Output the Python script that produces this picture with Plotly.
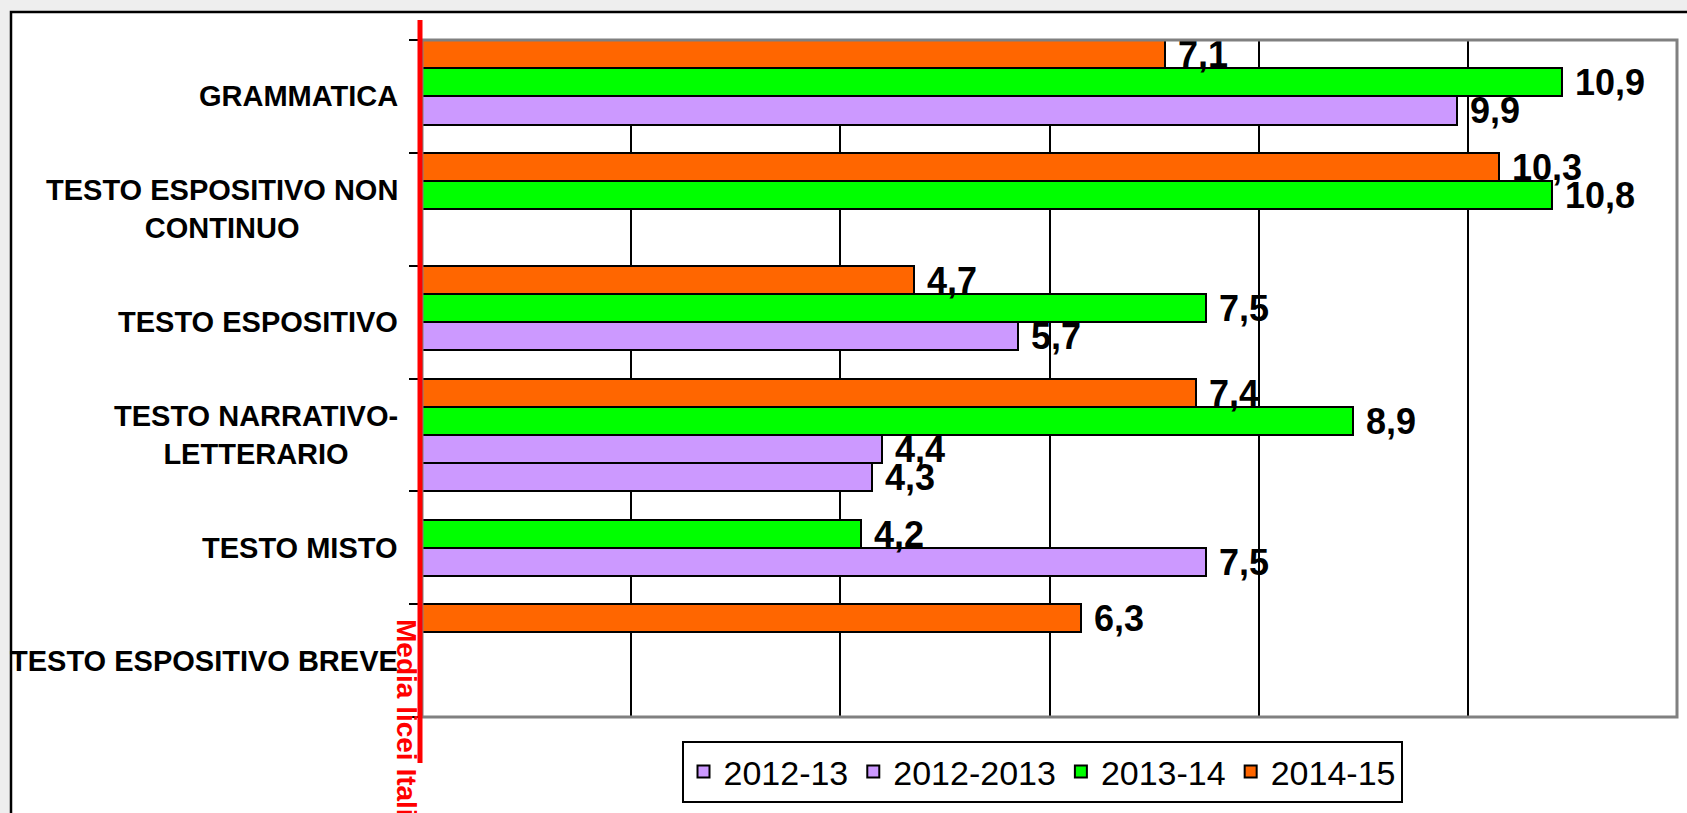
import plotly.graph_objects as go

# ---- data ----
categories = ["GRAMMATICA", "TESTO ESPOSITIVO NON CONTINUO", "TESTO ESPOSITIVO",
              "TESTO NARRATIVO-LETTERARIO", "TESTO MISTO", "TESTO ESPOSITIVO BREVE"]
category_labels = ["GRAMMATICA", "TESTO ESPOSITIVO NON<br>CONTINUO", "TESTO ESPOSITIVO",
                   "TESTO NARRATIVO-<br>LETTERARIO", "TESTO MISTO", "TESTO ESPOSITIVO BREVE"]
series_names = ["2012-13", "2012-2013", "2013-14", "2014-15"]
s2012_13 = [None, None, None, 4.3, None, None]
s2012_2013 = [9.9, None, 5.7, 4.4, 7.5, None]
s2013_14 = [10.9, 10.8, 7.5, 8.9, 4.2, None]
s2014_15 = [7.1, 10.3, 4.7, 7.4, None, 6.3]
series_values = [s2012_13, s2012_2013, s2013_14, s2014_15]
series_colors = ["#CC99FF", "#CC99FF", "#00FF00", "#FF6600"]
x_ticks = [0, 2, 4, 6, 8, 10, 12]
ref_label = "Media licei Italia"

FONT = "Arial, Liberation Sans, sans-serif"
W, H = 1687, 813
ML, MR, MT, MB = 422, 10, 40, 96
PW, PH = W - ML - MR, H - MT - MB


def fmt(v):
    return "" if v is None else "\u00a0" + f"{v:.1f}".replace(".", ",")


fig = go.Figure()
for name, vals, col in zip(series_names, series_values, series_colors):
    fig.add_trace(go.Bar(
        name=name, y=categories, x=vals, orientation="h",
        marker=dict(color=col, line=dict(color="black", width=2)),
        text=[fmt(v) for v in vals], textposition="outside",
        textfont=dict(family=FONT, size=36, color="black", weight="bold"),
        constraintext="none", cliponaxis=False,
    ))

annotations = []
for cat, lab in zip(categories, category_labels):
    annotations.append(dict(
        text=lab, xref="paper", x=0, xanchor="right", xshift=-22,
        yref="y", y=cat, yanchor="middle", align="center", showarrow=False,
        font=dict(family=FONT, size=29, color="black", weight="bold"),
    ))
annotations.append(dict(
    text=ref_label, textangle=90, xref="paper", x=0, xanchor="center", xshift=-15,
    yref="paper", y=(H - MB - 617) / PH,
    yanchor="top", showarrow=False,
    font=dict(family=FONT, size=28, color="#FF0000", weight="bold"),
))

shapes = [
    # chart area frame
    dict(type="rect", xref="paper", yref="paper",
         x0=(11 - ML) / PW, x1=1.05, y0=-0.2, y1=(H - MB - 12) / PH,
         fillcolor="white", line=dict(color="black", width=2.5), layer="below"),
    # plot area border
    dict(type="rect", xref="paper", yref="paper", x0=0, x1=1, y0=0, y1=1,
         line=dict(color="#808080", width=3), layer="above"),
    # reference (Italy average) line, at the axis origin
    dict(type="line", xref="paper", x0=-2 / PW, x1=-2 / PW, yref="paper",
         y0=(H - MB - 763) / PH, y1=(H - MB - 20) / PH,
         line=dict(color="#FF0000", width=5), layer="above"),
]

fig.update_layout(
    width=W, height=H,
    margin=dict(l=ML, r=MR, t=MT, b=MB, pad=0, autoexpand=False),
    paper_bgcolor="#EEEEEE", plot_bgcolor="white",
    barmode="group", bargap=0, bargroupgap=0,
    font=dict(family=FONT, color="black"),
    showlegend=True,
    legend=dict(orientation="h", x=(1042 - ML) / PW, xanchor="center",
                y=-(741 - (H - MB)) / PH, yanchor="top",
                bgcolor="white", bordercolor="black", borderwidth=2,
                font=dict(family=FONT, size=34, color="black"),
                traceorder="normal"),
    xaxis=dict(range=[x_ticks[0], x_ticks[-1]], tickvals=x_ticks, showticklabels=False,
               showgrid=True, gridcolor="black", gridwidth=2, zeroline=False,
               showline=False, ticks=""),
    yaxis=dict(categoryorder="array", categoryarray=categories[::-1],
               range=[-0.5, len(categories) - 0.5], showticklabels=False,
               ticks="outside", tickson="boundaries", ticklen=12, tickwidth=2,
               tickcolor="black", showgrid=False, zeroline=False, showline=False),
    annotations=annotations, shapes=shapes,
)

fig.write_html("out.html", config={"displayModeBar": False},
               post_script="document.body.style.margin='0';document.body.style.overflow='hidden';")
